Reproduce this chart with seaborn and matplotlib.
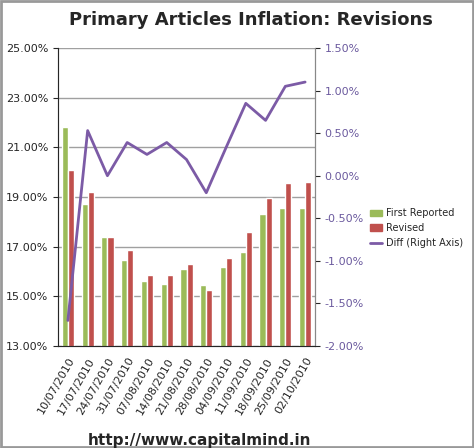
import matplotlib
matplotlib.use("Agg")
import matplotlib.pyplot as plt
import seaborn as sns
import pandas as pd
from matplotlib.ticker import FuncFormatter

dates = ["10/07/2010","17/07/2010","24/07/2010","31/07/2010","07/08/2010","14/08/2010","21/08/2010",
         "28/08/2010","04/09/2010","11/09/2010","18/09/2010","25/09/2010","02/10/2010"]
first = [21.8,18.7,17.4,16.45,15.6,15.5,16.1,15.45,16.2,16.8,18.3,18.55,18.55]
revised = [20.1,19.2,17.4,16.85,15.85,15.85,16.3,15.25,16.55,17.6,18.95,19.55,19.6]
diff = [-1.7,0.53,0.0,0.39,0.25,0.39,0.19,-0.2,0.33,0.85,0.65,1.05,1.10]

sns.set_style("white")
fig = plt.figure(figsize=(4.74,4.48), dpi=100)
ax = fig.add_axes([58/474, 1-346/448, 257/474, 298/448])
df = pd.DataFrame({"date": dates*2, "val": first+revised,
                   "series": ["First Reported"]*13+["Revised"]*13})
sns.barplot(data=df, x="date", y="val", hue="series", palette=["#9bbb59","#c0504d"],
            ax=ax, width=0.62, saturation=1, legend=False, gap=0)
ax.set_ylim(13,25)
ax.set_yticks([13,15,17,19,21,23,25])
ax.yaxis.set_major_formatter(FuncFormatter(lambda v,p: f"{v:.2f}%"))
ax.grid(axis="y", color="#a0a0a0", lw=1)
ax.set_axisbelow(True)
ax.set_xlabel(""); ax.set_ylabel("")
ax.set_xticks(range(13))
ax.set_xticklabels(dates, rotation=60, ha="right", rotation_mode="anchor", fontsize=8)
ax.tick_params(axis="y", labelsize=8)
ax.spines["top"].set_visible(False)
for s in ["left","bottom","right"]:
    ax.spines[s].set_color("#888888")

ax2 = ax.twinx()
sns.lineplot(x=list(range(13)), y=diff, ax=ax2, color="#7c5ba6", lw=2, legend=False)
ax2.set_ylim(-2,1.5)
ax2.set_yticks([-2,-1.5,-1,-0.5,0,0.5,1,1.5])
ax2.yaxis.set_major_formatter(FuncFormatter(lambda v,p: f"{v:.2f}%"))
ax2.tick_params(axis="y", labelsize=8, labelcolor="#6b5a9e")
ax2.spines["top"].set_visible(False)
ax2.spines["right"].set_color("#888888")
ax.set_xlim(-0.5,12.5)

from matplotlib.patches import Patch
from matplotlib.lines import Line2D
handles = [Patch(color="#9bbb59"), Patch(color="#c0504d"), Line2D([],[],color="#7c5ba6",lw=2)]
fig.legend(handles, ["First Reported","Revised","Diff (Right Axis)"], loc="center left",
           bbox_to_anchor=(366/474, 1-228/448), frameon=False, fontsize=7,
           handlelength=1.2, handleheight=0.6, handletextpad=0.5, borderaxespad=0)
fig.text(0.53, 1-20/448, "Primary Articles Inflation: Revisions", ha="center", va="center",
         fontsize=13, fontweight="bold")
fig.text(0.42, 1-440/448, "http://www.capitalmind.in", ha="center", va="center",
         fontsize=11, fontweight="bold")
fig.add_artist(plt.Rectangle((0.003,0.003),0.994,0.994, transform=fig.transFigure,
               fill=False, edgecolor="#999999", lw=2))
fig.savefig("out.png", dpi=100)
